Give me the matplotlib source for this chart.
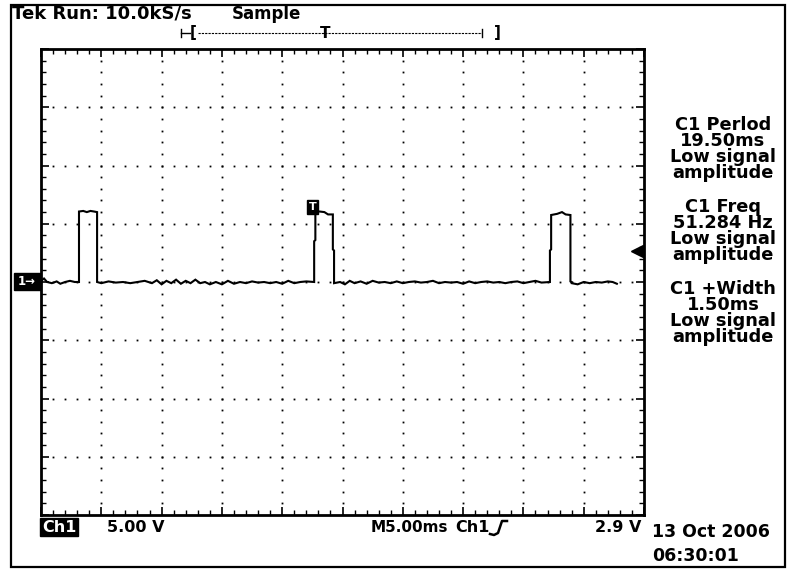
import matplotlib
matplotlib.use('Agg')
import matplotlib.pyplot as plt
import numpy as np
from matplotlib.patches import Rectangle

# Ch1 trace, time in ms, voltage in V (5 ms/div, 5 V/div)
trace_t = [0.0, 0.25, 0.5, 0.9, 1.3, 1.6, 2.0, 2.4, 2.8, 3.15,
           3.15, 3.5, 3.8, 4.1, 4.4, 4.65,
           4.65, 5.0, 5.6, 6.2, 6.8, 7.4, 8.0, 8.6, 9.2, 9.6, 10.0, 10.4, 10.8,
           11.2, 11.6, 12.0, 12.4, 12.8, 13.2, 13.6, 14.0, 14.5, 15.0, 15.5,
           16.0, 16.5, 17.0, 17.5, 18.0, 18.5, 19.0, 19.5, 20.0, 20.5, 21.0,
           21.5, 22.0, 22.65,
           22.65, 22.75, 22.75, 23.1, 23.5, 23.8, 24.2,
           24.2, 24.3, 24.3, 24.8, 25.2, 25.6, 26.0, 26.5, 27.0, 27.5, 28.0,
           28.5, 29.0, 29.5, 30.0, 30.5, 31.0, 31.5, 32.0, 32.5, 33.0, 33.5,
           34.0, 34.5, 35.0, 35.5, 36.0, 36.5, 37.0, 37.5, 38.0, 38.5, 39.0,
           39.5, 40.0, 40.5, 41.0, 41.5, 42.2,
           42.2, 42.3, 42.3, 42.8, 43.2, 43.5, 43.9,
           43.9, 44.0, 44.0, 44.5, 45.0, 45.5, 46.0, 46.5, 47.0, 47.4, 47.75]
trace_v = [0.1, 0.3, 0.0, -0.1, 0.05, -0.15, 0.0, 0.1, 0.0, 0.0,
           6.05, 6.1, 6.0, 6.1, 6.05, 6.0,
           0.0, -0.1, 0.05, -0.05, 0.0, -0.1, 0.0, 0.1, -0.1, 0.15, -0.2, 0.1, -0.1,
           0.2, -0.15, 0.1, -0.1, 0.2, -0.1, 0.0, -0.2, 0.0, -0.2, 0.1,
           -0.15, 0.0, -0.1, 0.05, -0.05, 0.0, -0.1, 0.0, -0.15, 0.1, -0.1,
           0.0, 0.05, 0.0,
           3.5, 3.6, 6.05, 6.05, 6.0, 5.8, 5.8,
           2.8, 2.7, -0.1, 0.0, -0.2, 0.1, -0.1, 0.05, -0.15, 0.1, -0.05,
           0.0, -0.1, 0.05, -0.1, 0.0, 0.05, -0.05, 0.0, 0.1, -0.1, 0.0,
           -0.05, 0.0, -0.15, 0.05, -0.1, 0.0, 0.05, -0.05, 0.0, -0.1, 0.0,
           0.05, -0.1, 0.0, 0.1, -0.05, 0.0,
           2.7, 2.8, 5.75, 5.85, 6.0, 5.8, 5.75,
           0.05, 0.0, -0.1, -0.2, 0.0, -0.1, 0.0, -0.05, 0.05, 0.0, -0.15]

header_left = "Tek Run: 10.0kS/s"
header_mode = "Sample"
meas_lines = ["C1 Perlod\n19.50ms\nLow signal\namplitude",
              "C1 Freq\n51.284 Hz\nLow signal\namplitude",
              "C1 +Width\n1.50ms\nLow signal\namplitude"]
ch_scale = "5.00 V"
time_base = "M5.00ms"
trig_src = "Ch1"
trig_level = "2.9 V"
date_str = "13 Oct 2006"
time_str = "06:30:01"

W, H = 791, 575
fig = plt.figure(figsize=(W / 100, H / 100), dpi=100)
fig.patch.set_facecolor('white')

def fx(x):
    return x / W

def fy(y):
    return 1 - y / H

# graticule: 10 x 8 divisions
gl, gt, gr, gb = 41, 49, 644, 515
ax = fig.add_axes([fx(gl), fy(gb), (gr - gl) / W, (gb - gt) / H])
ax.set_xlim(0, 50)
ax.set_ylim(-20, 20)
for s in ax.spines.values():
    s.set_linewidth(2.0)
    s.set_color('black')
ax.set_xticks(np.arange(0, 51, 5))
ax.set_xticks(np.arange(0, 51, 1), minor=True)
ax.set_yticks(np.arange(-20, 21, 5))
ax.set_yticks(np.arange(-20, 21, 1), minor=True)
ax.tick_params(which='both', direction='in', top=True, right=True,
               labelbottom=False, labelleft=False, color='black')
ax.tick_params(which='major', length=5.5, width=1.2)
ax.tick_params(which='minor', length=3.5, width=1.0)

# dotted grid lines
dx = np.arange(0, 50.01, 1.0)
dy = np.arange(-20, 20.01, 1.0)
for gx in np.arange(5, 50, 5):
    ax.plot(np.full_like(dy, gx), dy, ls='none', marker='s', ms=1.3,
            color='black', mew=0)
for gy in np.arange(-15, 20, 5):
    ax.plot(dx, np.full_like(dx, gy), ls='none', marker='s', ms=1.3,
            color='black', mew=0)

ax.plot(trace_t, trace_v, color='black', lw=1.5, solid_joinstyle='miter')

# overlay in pixel coordinates
ov = fig.add_axes([0, 0, 1, 1], zorder=5)
ov.set_xlim(0, W)
ov.set_ylim(H, 0)
ov.axis('off')
ov.patch.set_visible(False)

ov.add_patch(Rectangle((11, 5), 774, 562, fill=False, lw=1.6, ec='black'))

font = dict(family='DejaVu Sans', fontweight='bold', color='black')
ov.text(12, 14, header_left, fontsize=13, va='center', ha='left', **font)
ov.text(232, 14, header_mode, fontsize=12, va='center', ha='left', **font)

# record bracket
ov.plot([181, 181], [29, 37], color='black', lw=1)
ov.plot([181, 190], [33, 33], color='black', lw=1)
ov.text(193, 33, "[", fontsize=11, va='center', ha='center', **font)
ov.plot([198, 482], [33, 33], color='black', lw=0.8, ls=(0, (2, 1)))
ov.text(325, 33, "T", fontsize=11, va='center', ha='center', **font)
ov.plot([482, 482], [29, 37], color='black', lw=1)
ov.text(497, 33, "]", fontsize=11, va='center', ha='center', **font)

# ground marker
ov.add_patch(Rectangle((14, 273), 26, 17, color='black'))
ov.text(27, 281.5, "1\u2192", fontsize=8.5, va='center', ha='center',
        family='DejaVu Sans', fontweight='bold', color='white')

# trigger point marker
ov.add_patch(Rectangle((307, 200), 11, 14, color='black'))
ov.text(312.5, 207, "T", fontsize=8, va='center', ha='center',
        family='DejaVu Sans', fontweight='bold', color='white')

# trigger level marker
ov.plot([637], [251], marker='<', ms=8, color='black')

# measurements
for i, txt in enumerate(meas_lines):
    ov.text(723, 116 + i * 82, txt, fontsize=12.8, va='top', ha='center',
            linespacing=0.86, **font)

# bottom readout
ov.text(42, 527, "Ch1", fontsize=11.5, va='center', ha='left',
        family='DejaVu Sans', fontweight='bold', color='white',
        bbox=dict(boxstyle='square,pad=0.1', fc='black', ec='black'))
ov.text(107, 527, ch_scale, fontsize=11.5, va='center', ha='left', **font)
ov.text(371, 527, time_base, fontsize=11, va='center', ha='left', **font)
ov.text(455, 527, trig_src, fontsize=11.5, va='center', ha='left', **font)
ov.plot([490, 494, 498, 502, 507], [534, 535, 533, 521, 521], color='black', lw=1.8)
ov.text(641, 527, trig_level, fontsize=11.5, va='center', ha='right', **font)
ov.text(652, 532, date_str, fontsize=12.5, va='center', ha='left', **font)
ov.text(652, 556, time_str, fontsize=12.5, va='center', ha='left', **font)

fig.savefig('out.png', dpi=100)
